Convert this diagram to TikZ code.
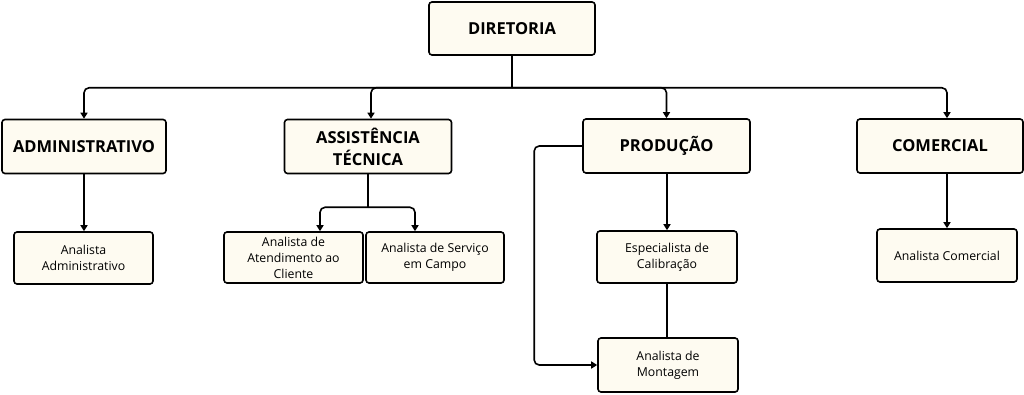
\documentclass[tikz,border=0pt]{standalone}
\usepackage{fontspec}
\setmainfont{Open Sans}
\usetikzlibrary{arrows.meta,calc}
\definecolor{boxfill}{HTML}{FEFBF1}
\tikzset{
  box/.style={draw=black, fill=boxfill, line width=1.6pt, rounded corners=3pt,
    align=center, inner sep=0pt},
  head/.style={box, font=\fontsize{16.5}{22}\selectfont\bfseries},
  sub/.style={box, font=\fontsize{12.3}{16}\selectfont},
  conn/.style={line width=1.6pt, rounded corners=5pt},
  arr/.style={conn, -{Triangle[width=7pt,length=6pt]}}
}
\begin{document}
\begin{tikzpicture}[x=1pt,y=-1pt]
\useasboundingbox (0,0) rectangle (1024,395);
% top level
\node[head, minimum width=166, minimum height=53] (dir) at (512,28.5) {DIRETORIA};
% second level
\node[head, minimum width=164, minimum height=54] (adm) at (84,146.5) {ADMINISTRATIVO};
\node[head, minimum width=167, minimum height=54] (ast) at (368,146.5) {ASSISTÊNCIA\\TÉCNICA};
\node[head, minimum width=167, minimum height=54] (prod) at (666.5,146) {PRODUÇÃO};
\node[head, minimum width=166, minimum height=54] (com) at (940,146) {COMERCIAL};
% third level
\node[sub, minimum width=139, minimum height=52] (admA) at (83.5,258) {Analista\\Administrativo};
\node[sub, minimum width=139, minimum height=51] (astA) at (293.5,257.5) {Analista de\\Atendimento ao\\Cliente};
\node[sub, minimum width=138, minimum height=51] (astB) at (435,257.5) {Analista de Serviço\\em Campo};
\node[sub, minimum width=140, minimum height=52] (esp) at (667,257) {Especialista de\\Calibração};
\node[sub, minimum width=140, minimum height=54] (mon) at (668,365) {Analista de\\Montagem};
\node[sub, minimum width=140, minimum height=53] (comA) at (947,255.5) {Analista Comercial};
% connectors from DIRETORIA
\coordinate (bus) at ($(dir.south)+(0,32)$);
\draw[conn] (dir.south) -- (bus);
\draw[arr] (bus) -| (adm.north);
\draw[arr] (bus) -| ([xshift=3pt]ast.north);
\draw[arr] (bus) -| (prod.north);
\draw[arr] (bus) -| (comA.north |- com.north);
% second to third level
\draw[arr] (adm.south) -- (admA.north -| adm.south);
\coordinate (abus) at ($(ast.south)+(0,33)$);
\draw[conn] (ast.south) -- (abus);
\draw[arr] (abus) -| ([xshift=26.5pt]astA.north);
\draw[arr] (abus) -| ([xshift=-20pt]astB.north);
\draw[arr] (esp.north |- prod.south) -- (esp.north);
\draw[conn] (esp.south) -- (mon.north -| esp.south);
\draw[arr] (prod.west) -- ++(-48,0) |- (mon.west);
\draw[arr] (comA.north |- com.south) -- (comA.north);
\end{tikzpicture}
\end{document}
